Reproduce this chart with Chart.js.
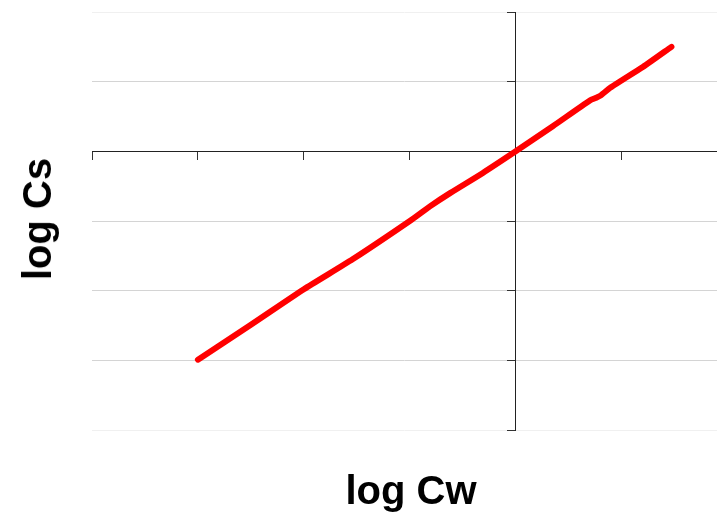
<!DOCTYPE html>
<html>
<head>
<meta charset="utf-8">
<script src="https://cdn.jsdelivr.net/npm/chart.js@4"></script>
<style>
  body { margin: 0; background: #fff; }
  #wrap { position: relative; width: 717px; height: 517px; }
  .title {
    position: absolute;
    font-family: "Liberation Sans", Arial, sans-serif;
    font-weight: bold;
    font-size: 40px;
    line-height: 40px;
    white-space: nowrap;
    color: #000;
    transform: translate(-50%, -50%);
  }
  #xTitle { left: 411px; top: 490px; }
  #yTitle { left: 37px; top: 219px; transform: translate(-50%, -50%) rotate(-90deg); }
</style>
</head>
<body>
<div id="wrap">
  <canvas id="chart" width="717" height="517"></canvas>
  <div class="title" id="xTitle">log Cw</div>
  <div class="title" id="yTitle">log Cs</div>
</div>
<script>
// log Cw vs log Cs
const logCw = [-3.0, -2.5, -2.0, -1.54, -1.0, -0.81, -0.62, -0.31, 0, 0.35, 0.7, 0.76, 0.8, 0.89, 0.98, 1.2, 1.47];
const logCs = [-2.99, -2.49, -1.98, -1.55, -1.0, -0.79, -0.6, -0.31, 0, 0.36, 0.73, 0.77, 0.8, 0.91, 1.0, 1.21, 1.5];

const xTicks = [-4, -3, -2, -1, 0, 1];
const yTicks = [-4, -3, -2, -1, 0, 1, 2];

const points = logCw.map((x, i) => ({ x: x, y: logCs[i] }));

new Chart(document.getElementById("chart").getContext("2d"), {
  type: "line",
  data: {
    datasets: [
      {
        label: "log Cs",
        data: points,
        borderColor: "#ff0000",
        backgroundColor: "#ff0000",
        borderWidth: 6,
        borderCapStyle: "round",
        borderJoinStyle: "round",
        tension: 0.2,
        fill: false,
        pointRadius: 0,
      },
    ],
  },
  options: {
    responsive: false,
    animation: false,
    layout: {
      padding: { left: 92, top: 12, right: 0, bottom: 87 },
    },
    scales: {
      x: {
        type: "linear",
        position: { y: 0 },
        min: -4,
        max: 1.9,
        afterBuildTicks: (scale) => {
          scale.ticks = xTicks.map((v) => ({ value: v }));
        },
        afterFit: (scale) => {
          scale.height = 0;
        },
        border: { display: true, color: "#222", width: 1 },
        grid: {
          drawOnChartArea: false,
          drawTicks: true,
          tickLength: 8,
          tickColor: "#333",
        },
        ticks: { display: false },
      },
      y: {
        type: "linear",
        position: { x: 0 },
        min: -4,
        max: 2,
        afterBuildTicks: (scale) => {
          scale.ticks = yTicks.map((v) => ({ value: v }));
        },
        afterFit: (scale) => {
          scale.width = 0;
        },
        border: { display: true, color: "#222", width: 1 },
        grid: {
          color: (ctx) => {
            // outer lines are barely visible in the original
            if (ctx.tick && (ctx.tick.value === -4 || ctx.tick.value === 2)) return "#f0f0f0";
            return "#d4d4d4";
          },
          drawTicks: true,
          tickLength: 8,
          tickColor: "#333",
        },
        ticks: { display: false },
      },
    },
    plugins: {
      legend: { display: false },
      tooltip: { enabled: false },
    },
  },
});
</script>
</body>
</html>
